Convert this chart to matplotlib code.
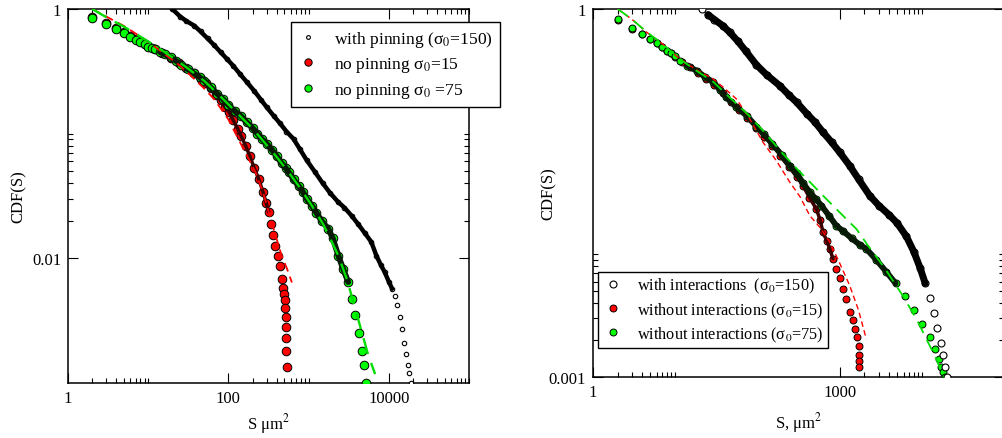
import matplotlib
matplotlib.use('Agg')
import numpy as np
import matplotlib.pyplot as plt
from matplotlib.ticker import FixedLocator, FuncFormatter, NullFormatter

plt.rcParams['font.family'] = ['Liberation Serif', 'DejaVu Serif']
plt.rcParams['mathtext.fontset'] = 'stix'
plt.rcParams['font.size'] = 12

# ---------------- left panel: pinning ----------------
pin_s = [20, 25, 30, 37.5, 45, 55, 66, 80, 95, 115, 140, 171, 210, 255, 300, 367, 440, 530, 650, 780,
         950, 1208, 1500, 1850, 2349, 2800, 3428, 4100, 5000, 6067, 7000, 8000, 8893, 10000, 11000,
         11830, 12800, 13700, 14600, 15500, 16400, 17300, 18100, 18840]
pin_cdf = [1.0, 0.87, 0.80, 0.735, 0.66, 0.58, 0.515, 0.45, 0.40, 0.35, 0.30, 0.258, 0.22, 0.187, 0.163,
           0.139, 0.121, 0.104, 0.0906, 0.075, 0.061, 0.049, 0.040, 0.0335, 0.0282, 0.0255, 0.022, 0.019,
           0.016, 0.0135, 0.0105, 0.0088, 0.00774, 0.0065, 0.0057, 0.005, 0.0042, 0.0034, 0.0027, 0.0021,
           0.0017, 0.0014, 0.0012, 0.001]

np15_s = [2, 3, 4, 5, 6, 7, 8, 9, 10, 12, 15, 19, 24, 30, 37, 45, 52, 60, 70, 80, 90, 102, 115, 130, 145,
          164, 185, 210, 239, 270, 295, 318, 340, 362, 385, 410, 435, 462, 480, 495, 502, 510, 516, 521,
          525, 529, 532]
np15_cdf = [0.86, 0.77, 0.70, 0.65, 0.61, 0.575, 0.55, 0.525, 0.505, 0.475, 0.44, 0.405, 0.37, 0.335,
            0.305, 0.275, 0.255, 0.232, 0.205, 0.185, 0.165, 0.149, 0.128, 0.11, 0.095, 0.080, 0.066,
            0.053, 0.0433, 0.034, 0.028, 0.0236, 0.019, 0.0155, 0.0126, 0.0105, 0.0087, 0.00684, 0.0058,
            0.0052, 0.0046, 0.004, 0.0034, 0.0028, 0.0023, 0.0018, 0.00135]

np75_s = [2, 3, 4, 5, 6, 7, 8, 9, 10, 11, 12, 14, 16, 19, 22, 26, 31, 37, 44, 50, 60, 73, 85, 100, 120,
          142, 170, 200, 230, 261, 300, 350, 400, 460, 520, 564, 650, 750, 850, 950, 1096, 1250, 1450,
          1766, 2000, 2349, 2700, 3120, 3428, 3800, 4200, 4600, 4900, 5174]
np75_cdf = [0.85, 0.76, 0.69, 0.645, 0.60, 0.567, 0.544, 0.52, 0.50, 0.488, 0.476, 0.452, 0.433, 0.41,
            0.385, 0.357, 0.33, 0.305, 0.283, 0.266, 0.235, 0.208, 0.19, 0.17, 0.152, 0.139, 0.123, 0.111,
            0.100, 0.0906, 0.083, 0.074, 0.066, 0.058, 0.053, 0.049, 0.043, 0.038, 0.034, 0.030, 0.0265,
            0.0232, 0.020, 0.0172, 0.0145, 0.0105, 0.0082, 0.00645, 0.0047, 0.0035, 0.0025, 0.0018,
            0.0014, 0.001]

fit15_s = [2, 3, 5, 8, 12, 16, 25, 37.5, 50, 66, 80, 100, 123, 160, 218, 270, 318, 390, 462, 540, 619]
fit15_cdf = [1.0, 0.87, 0.73, 0.6, 0.5, 0.436, 0.35, 0.275, 0.23, 0.19, 0.16, 0.13, 0.1, 0.072, 0.049,
             0.034, 0.0236, 0.015, 0.0105, 0.0082, 0.0064]
fit75_s = [2, 3, 5, 8, 12, 20, 31, 50, 73, 100, 142, 200, 261, 400, 564, 800, 1096, 1500, 1766, 2349,
           3000, 3500, 4500, 5500, 6745]
fit75_cdf = [1.0, 0.86, 0.72, 0.6, 0.51, 0.41, 0.335, 0.265, 0.21, 0.172, 0.137, 0.11, 0.09, 0.065, 0.049,
             0.036, 0.0265, 0.019, 0.0155, 0.0105, 0.0068, 0.0048, 0.0027, 0.0017, 0.00118]

# ---------------- right panel: interactions ----------------
int_s = [20.9, 25, 30, 38, 46, 58, 72, 97.5, 130, 187, 240, 299, 400, 500, 628, 800, 1000, 1327, 1700,
         2322, 3000, 4000, 5000, 6500, 8000, 9500, 11000, 12500, 14000, 15500, 17000, 18200, 19200, 20500]
int_cdf = [1.0, 0.90, 0.82, 0.73, 0.646, 0.545, 0.455, 0.35, 0.29, 0.237, 0.20, 0.174, 0.14, 0.12, 0.099,
           0.082, 0.068, 0.0528, 0.041, 0.0301, 0.025, 0.021, 0.018, 0.014, 0.0105, 0.0078, 0.0058,
           0.0044, 0.0033, 0.0025, 0.0019, 0.0015, 0.0012, 0.001]

wo15_s = [2, 3, 4, 5, 6, 7, 8, 9, 10, 12, 15, 19, 24, 30, 38, 48, 60, 75, 95, 120, 150, 190, 240, 300,
          359, 430, 522, 580, 629, 700, 759, 830, 915, 1000, 1101, 1200, 1328, 1450, 1560, 1640, 1700,
          1722, 1730, 1740]
wo15_cdf = [0.82, 0.69, 0.62, 0.565, 0.525, 0.49, 0.455, 0.435, 0.405, 0.37, 0.335, 0.30, 0.27, 0.24,
            0.205, 0.175, 0.15, 0.13, 0.107, 0.09, 0.077, 0.063, 0.052, 0.043, 0.0363, 0.029, 0.0234,
            0.019, 0.0151, 0.0128, 0.0111, 0.0092, 0.0076, 0.0064, 0.00522, 0.0043, 0.00337, 0.0029,
            0.00247, 0.0021, 0.0018, 0.0015, 0.00135, 0.00121]

wo75_s = [2, 3, 4, 5, 6, 7, 8, 9, 10, 11.4, 14, 18.2, 23, 29, 35, 42, 55, 74, 97.5, 120, 150, 200, 248,
          299, 360, 433, 520, 600, 750, 914, 1100, 1400, 1750, 2113, 2800, 3700, 4800, 6200, 8000,
          10000, 12500, 14500, 16000, 17300, 18300, 18900]
wo75_cdf = [0.829, 0.696, 0.625, 0.569, 0.528, 0.493, 0.457, 0.438, 0.41, 0.379, 0.345, 0.314, 0.28,
            0.253, 0.22, 0.19, 0.16, 0.135, 0.11, 0.095, 0.08, 0.064, 0.0528, 0.046, 0.038, 0.0321,
            0.028, 0.025, 0.0205, 0.0171, 0.0155, 0.0135, 0.012, 0.0111, 0.009, 0.0072, 0.0058, 0.0046,
            0.0035, 0.0027, 0.0021, 0.0017, 0.0014, 0.0012, 0.0011, 0.001]

wfit15_s = [2, 3, 4.5, 7, 11.4, 18, 29, 40, 55.5, 80, 117, 170, 248, 330, 433, 580, 759, 1000, 1328,
            1700, 2113]
wfit15_cdf = [1.0, 0.82, 0.646, 0.52, 0.391, 0.32, 0.269, 0.225, 0.185, 0.128, 0.082, 0.058, 0.0387,
              0.0295, 0.0207, 0.0165, 0.0126, 0.0085, 0.00556, 0.0035, 0.00204]
wfit75_s = [2, 3, 4.5, 7, 11.4, 18, 29, 46, 75, 120, 200, 300, 433, 628, 1000, 1600, 2210, 3500, 6000,
            9000, 12000, 15000, 16500]
wfit75_cdf = [1.0, 0.82, 0.65, 0.52, 0.39, 0.315, 0.255, 0.19, 0.14, 0.1, 0.067, 0.05, 0.039, 0.0301,
              0.022, 0.0161, 0.0118, 0.0078, 0.0045, 0.0028, 0.0019, 0.0014, 0.0012]

RED = '#ff0000'
GREEN = '#00ff00'
GREEN_D = '#00dd00'

W, H = 1003, 439
fig = plt.figure(figsize=(W / 100, H / 100), dpi=100)


def px_axes(x0, y0, x1, y1):
    return fig.add_axes([x0 / W, 1 - y1 / H, (x1 - x0) / W, (y1 - y0) / H])


def style(ax, xmaj, ymaj, xlim, ylim):
    ax.set_xscale('log')
    ax.set_yscale('log')
    ax.set_xlim(*xlim)
    ax.set_ylim(*ylim)
    ax.xaxis.set_major_locator(FixedLocator(xmaj))
    ax.yaxis.set_major_locator(FixedLocator(ymaj))
    # grace-style minor ticks: only in the decade right after each major tick
    ax.xaxis.set_minor_locator(FixedLocator([m * k for m in xmaj for k in range(2, 11)]))
    ax.yaxis.set_minor_locator(FixedLocator([m * k for m in ymaj for k in range(2, 11)]))
    fmt = FuncFormatter(lambda v, p: '%g' % v)
    ax.xaxis.set_major_formatter(fmt)
    ax.yaxis.set_major_formatter(fmt)
    ax.xaxis.set_minor_formatter(NullFormatter())
    ax.yaxis.set_minor_formatter(NullFormatter())
    ax.tick_params(which='both', direction='in', top=True, right=True, width=0.8, labelsize=12)
    ax.tick_params(which='major', length=7, pad=5)
    ax.tick_params(which='minor', length=3.5)
    for sp in ax.spines.values():
        sp.set_linewidth(1.1)


def band(ax, s, c, lo, hi, color, lw, z):
    # dense stretch of overlapping markers
    s = np.asarray(s)
    c = np.asarray(c)
    m = (s >= lo) & (s <= hi)
    ax.plot(s[m], c[m], color=color, lw=lw, zorder=z, solid_capstyle='round', solid_joinstyle='round')


# ---- left ----
ax1 = px_axes(68, 10, 469, 384)
style(ax1, [1, 100, 10000], [0.01, 1], (1, 1e5), (0.001, 1))

h_r15, = ax1.plot(np15_s, np15_cdf, ls='none', marker='o', ms=6.2, mfc=RED, mec='black', mew=0.7, zorder=2)
band(ax1, np15_s, np15_cdf, 40, 330, '#3a0000', 2.5, 2.1)
h_g75, = ax1.plot(np75_s, np75_cdf, ls='none', marker='o', ms=6.2, mfc=GREEN, mec='black', mew=0.7, zorder=3)
band(ax1, np75_s, np75_cdf, 14, 3300, '#061a06', 4.2, 3.1)
h_pin, = ax1.plot(pin_s, pin_cdf, ls='none', marker='o', ms=3.2, mfc='white', mec='black', mew=0.8, zorder=4)
band(ax1, pin_s, pin_cdf, 20, 11000, 'black', 3.2, 4.1)
ax1.plot(fit15_s, fit15_cdf, color=RED, lw=1.3, dashes=(5, 3), zorder=5)
ax1.plot(fit75_s, fit75_cdf, color=GREEN_D, lw=1.7, dashes=(7, 4), zorder=5)

ax1.set_xlabel('S μm$^2$', fontsize=12)
ax1.set_ylabel('CDF(S)', fontsize=12)
ax1.xaxis.set_label_coords(0.5, -0.075)
ax1.yaxis.set_label_coords(-0.102, 0.5)

leg1 = ax1.legend([h_pin, h_r15, h_g75],
                  ['with pinning (σ$_0$=150)', 'no pinning σ$_0$=15', 'no pinning σ$_0$ =75'],
                  loc='upper left', bbox_to_anchor=(290.7 / W, 1 - 22.7 / H), bbox_transform=fig.transFigure,
                  fancybox=False, framealpha=1, edgecolor='black', borderaxespad=0, markerscale=0.85,
                  handlelength=1.2, handletextpad=0.9, labelspacing=0.38, borderpad=0.4, fontsize=12.6)
leg1.get_frame().set_linewidth(1.0)
leg1.set_zorder(10)

# ---- right ----
ax2 = px_axes(593, 10, 1004, 378)
style(ax2, [1, 1000], [0.001, 1], (1, 1e5), (0.001, 1))

h_w15, = ax2.plot(wo15_s, wo15_cdf, ls='none', marker='o', ms=5, mfc=RED, mec='black', mew=0.7, zorder=2)
band(ax2, wo15_s, wo15_cdf, 180, 900, '#3a0000', 2.5, 2.1)
h_w75, = ax2.plot(wo75_s, wo75_cdf, ls='none', marker='o', ms=5, mfc=GREEN, mec='black', mew=0.7, zorder=3)
band(ax2, wo75_s, wo75_cdf, 12, 5000, '#061a06', 4.2, 3.1)
h_int, = ax2.plot(int_s, int_cdf, ls='none', marker='o', ms=5, mfc='white', mec='black', mew=0.8, zorder=4)
band(ax2, int_s, int_cdf, 21, 12000, 'black', 5.0, 4.1)
ax2.plot(wfit15_s, wfit15_cdf, color=RED, lw=1.0, dashes=(4, 2.5), zorder=5)
ax2.plot(wfit75_s, wfit75_cdf, color=GREEN_D, lw=1.3, dashes=(7, 4), zorder=5)

ax2.set_xlabel('S, μm$^2$', fontsize=12)
ax2.set_ylabel('CDF(S)', fontsize=12)
ax2.xaxis.set_label_coords(0.5, -0.09)
ax2.yaxis.set_label_coords(-0.088, 0.5)

leg2 = ax2.legend([h_int, h_w15, h_w75],
                  ['with interactions  (σ$_0$=150)', 'without interactions (σ$_0$=15)',
                   'without interactions (σ$_0$=75)'],
                  loc='upper left', bbox_to_anchor=(598.3 / W, 1 - 272.7 / H), bbox_transform=fig.transFigure,
                  fancybox=False, framealpha=1, edgecolor='black', borderaxespad=0,
                  handlelength=1.2, handletextpad=0.9, labelspacing=0.3, borderpad=0.28, fontsize=11.7)
leg2.get_frame().set_linewidth(1.0)
leg2.set_zorder(10)

fig.savefig('out.png', dpi=100)
